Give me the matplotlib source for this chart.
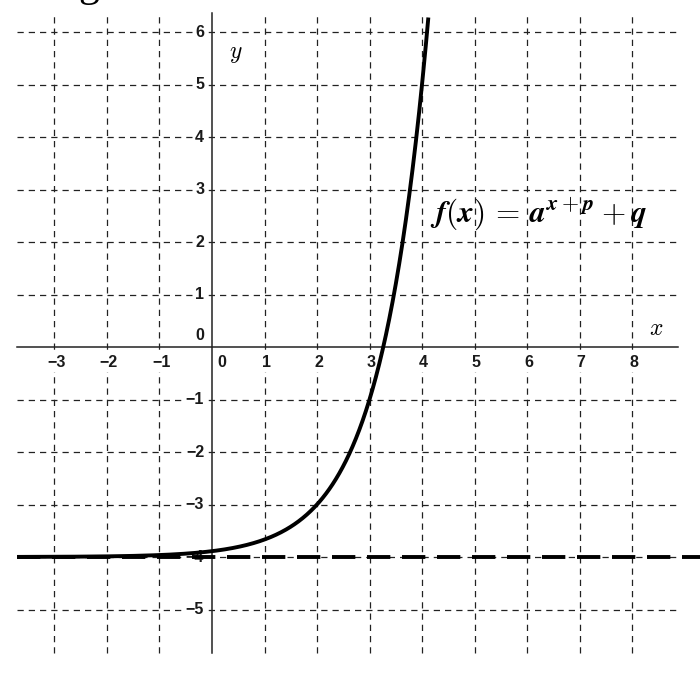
import numpy as np
import matplotlib
matplotlib.use("Agg")
import matplotlib.pyplot as plt

plt.rcParams['mathtext.fontset'] = 'cm'

# f(x) = a^(x+p) + q
a = 3
p = -2
q = -4

x_ticks = [-3, -2, -1, 0, 1, 2, 3, 4, 5, 6, 7, 8]
y_ticks = [-5, -4, -3, -2, -1, 1, 2, 3, 4, 5, 6]
x_span = (-3.71, 8.88)
y_span = (-5.83, 6.34)

fig = plt.figure(figsize=(7, 6.82), dpi=100)
ax = fig.add_axes([0, 0, 1, 1])
ax.set_xlim(-4.038, 9.295)
ax.set_ylim(-6.381, 6.61)
ax.axis('off')

# dashed grid
for xv in x_ticks:
    if xv == 0:
        continue
    ax.plot([xv, xv], y_span, color='#222222', lw=0.9, dashes=(5, 4), zorder=1)
for yv in y_ticks:
    ax.plot(x_span, [yv, yv], color='#222222', lw=0.9, dashes=(5, 4), zorder=1)

# axes
ax.plot(x_span, [0, 0], color='#222222', lw=1.1, zorder=2)
ax.plot([0, 0], (-5.83, 6.36), color='#222222', lw=1.1, zorder=2)

lab = dict(fontsize=11.5, family='Liberation Sans', fontweight='bold', color='#1a1a1a', zorder=3,
           bbox=dict(facecolor='white', edgecolor='none', pad=1.0))
for xv in x_ticks:
    off = 0.18 if xv == 0 else 0.03
    ax.text(xv + off, -0.30, str(xv).replace('-', '\u2212'), ha='center', va='center', **lab)
for yv in y_ticks:
    ax.text(-0.15, yv, str(yv).replace('-', '\u2212'), ha='right', va='center', **lab)
ax.text(-0.15, 0.22, '0', ha='right', va='center', **lab)

ax.text(0.46, 5.6, r'$y$', fontsize=17, ha='center', va='center')
ax.text(8.47, 0.37, r'$x$', fontsize=17, ha='center', va='center')

# asymptote and curve
ax.plot((x_span[0], 9.3), [q, q], color='black', lw=2.8, dashes=(6, 3), zorder=4)
xs = np.linspace(x_span[0], 4.2, 500)
ys = a ** (xs + p) + q
m = ys <= 6.36
ax.plot(xs[m], ys[m], color='black', lw=2.8, solid_capstyle='butt', zorder=5)

formula = (r'$\boldsymbol{f}\boldsymbol{(}\boldsymbol{x}\boldsymbol{)} \,=\, '
           r'\boldsymbol{a}^{\boldsymbol{x}+\boldsymbol{p}} + \boldsymbol{q}$')
ax.text(4.15, 2.55, formula, fontsize=22.5, ha='left', va='center', zorder=6)

fig.text(78 / 700, 1 + 4 / 682, 'g', va='baseline', ha='left',
         family='Liberation Serif', fontsize=30)

fig.savefig('out.png', dpi=100)
